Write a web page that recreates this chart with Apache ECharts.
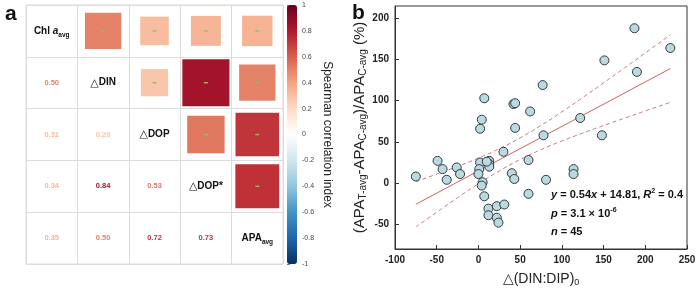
<!DOCTYPE html>
<html>
<head>
<meta charset="utf-8">
<script src="https://cdn.jsdelivr.net/npm/echarts@6/dist/echarts.min.js"></script>
<style>
  html, body { margin: 0; padding: 0; background: #fff; }
  #chart { width: 700px; height: 294px; }
</style>
</head>
<body>
<div id="chart"></div>
<script>
// panel a -- lower triangle of the Spearman matrix (row i, col j < i)
const varLabels = [
  "{b|Chl }{bi|a}{sub|avg}",
  "{t|△}{b|DIN}",
  "{t|△}{b|DOP}",
  "{t|△}{b|DOP*}",
  "{b|APA}{sub|avg}",
];
const corrRows = [
  [],
  [0.50],
  [0.31, 0.28],
  [0.34, 0.84, 0.53],
  [0.35, 0.50, 0.72, 0.73],
];
const cbarTicks = [-1, -0.8, -0.6, -0.4, -0.2, 0, 0.2, 0.4, 0.6, 0.8, 1];
const rdbu = ["#053061", "#2166AC", "#4393C3", "#92C5DE", "#D1E5F0", "#FFFFFF",
              "#FDDBC7", "#F4A582", "#D6604D", "#B2182B", "#67001F"];

// panel b -- scatter
const dinDip = [-75, -49, -43, -38, -26, -22, 2, 1, 0, 5, 4, 7, 12, 12, 22, 31, 22, 24,
  13, 13, 13, 30, 40, 43, 60, 60, 81, 114, 114, 78, 122, 148, 151, 190, 187, 230,
  77, 7, 4, 2, 42, 44, 62, 44, 10];
const apaDiff = [8, 27, 17, 4, 19, 11, 25, 17, 11, 1, -3, -16, -31, -39, -28, -26, -42, -48,
  27, 23, 20, 38, 12, 5, 28, -13, 4, 17, 11, 58, 79, 58, 149, 135, 188, 164,
  119, 103, 77, 66, 96, 97, 87, 67, 26];
const fitX = [-75, 230];
const fitY = [-25.7, 139.0];
const bandX = [-75, -50, -25, 0, 25, 50, 75, 100, 125, 150, 175, 200, 230];
const bandUpper = [1.8, 10.9, 20.3, 30.4, 41.8, 54.9, 70, 86.5, 103.9, 121.7, 139.8, 158, 180];
const bandLower = [-53.2, -35.3, -17.7, -0.8, 14.8, 28.7, 40.6, 51.1, 60.7, 69.9, 78.8, 87.6, 98];

const FONT = "Liberation Sans, Arial, sans-serif";

const upperCells = [];
const lowerCells = [];
corrRows.forEach((row, i) => {
  row.forEach((v, j) => {
    upperCells.push([i, j, v]);   // column i, row j (above diagonal)
    lowerCells.push([j, i, v]);   // column j, row i (below diagonal)
  });
});
const diagCells = varLabels.map((_, i) => [i, i]);

const chart = echarts.init(document.getElementById("chart"));

const sub = (size) => ({ fontSize: size, fontFamily: FONT, verticalAlign: "bottom", lineHeight: 16 });

const option = {
  animation: false,
  textStyle: { fontFamily: FONT },
  grid: [
    { left: 26, top: 5, width: 257, height: 259, show: true, borderColor: "#dcdcdc", borderWidth: 1 },
    { left: 287, top: 5, width: 10, height: 259 },
    { left: 395, top: 6, width: 292, height: 243, show: true, borderColor: "#333", borderWidth: 1 },
  ],
  xAxis: [
    {
      gridIndex: 0, type: "category", data: [0, 1, 2, 3, 4],
      axisLine: { show: false }, axisTick: { show: false }, axisLabel: { show: false },
      splitLine: { show: true, lineStyle: { color: "#dcdcdc" } },
    },
    { gridIndex: 1, type: "value", show: false },
    {
      gridIndex: 2, type: "value", min: -100, max: 250, interval: 50,
      axisLine: { onZero: false, lineStyle: { color: "#333" } },
      axisTick: { inside: true, length: 4, lineStyle: { color: "#333" } },
      axisLabel: { fontSize: 10, fontWeight: "bold", color: "#222", margin: 6 },
      splitLine: { show: false },
      name: "△(DIN:DIP){s|0}", nameLocation: "middle", nameGap: 22,
      nameTextStyle: { fontSize: 14, color: "#222", rich: { s: sub(9) } },
    },
  ],
  yAxis: [
    {
      gridIndex: 0, type: "category", data: [0, 1, 2, 3, 4], inverse: true,
      axisLine: { show: false }, axisTick: { show: false }, axisLabel: { show: false },
      splitLine: { show: true, lineStyle: { color: "#dcdcdc" } },
    },
    {
      gridIndex: 1, type: "value", min: -1, max: 1, interval: 0.2, position: "right",
      axisLine: { show: false },
      axisTick: { show: true, length: 3, lineStyle: { color: "#777" } },
      axisLabel: {
        fontSize: 7, color: "#444", margin: 5,
        formatter: (v) => String(cbarTicks.reduce((a, b) => Math.abs(b - v) < Math.abs(a - v) ? b : a)),
      },
      splitLine: { show: false },
      name: "Spearman correlation index", nameLocation: "middle", nameRotate: -90, nameGap: 24,
      nameTextStyle: { fontSize: 12, color: "#222" },
    },
    {
      gridIndex: 2, type: "value", min: -80, max: 215, splitNumber: 5,
      axisLine: { onZero: false, lineStyle: { color: "#333" } },
      axisTick: { inside: true, length: 4, lineStyle: { color: "#333" } },
      axisLabel: {
        fontSize: 10, fontWeight: "bold", color: "#222", margin: 6,
        showMinLabel: false, showMaxLabel: false,
      },
      splitLine: { show: false },
      name: "(APA{s|T-avg}-APA{s|C-avg})/APA{s|C-avg} (%)",
      nameLocation: "middle", nameGap: 27,
      nameTextStyle: { fontSize: 15, color: "#222", rich: { s: sub(10) } },
    },
  ],
  visualMap: {
    type: "continuous", min: -1, max: 1, seriesIndex: [0, 1], dimension: 2,
    calculable: false, hoverLink: false, text: null, padding: 0,
    left: 287, top: 5, itemWidth: 10, itemHeight: 259,
    inRange: { color: rdbu },
  },
  series: [
    {
      // squares above the diagonal
      type: "custom", xAxisIndex: 0, yAxisIndex: 0, data: upperCells,
      renderItem: function (params, api) {
        const c = api.coord([api.value(0), api.value(1)]);
        const cell = api.size([1, 1]);
        const s = cell[0] * Math.sqrt(Math.abs(api.value(2)));
        return {
          type: "group",
          children: [
            { type: "rect", shape: { x: c[0] - s / 2, y: c[1] - s / 2, width: s, height: s },
              style: { fill: api.visual("color") } },
            { type: "rect", shape: { x: c[0] - 2, y: c[1] - 0.7, width: 4, height: 1.4 },
              style: { fill: "#a5b55c" } },
          ],
        };
      },
    },
    {
      // coefficients below the diagonal
      type: "custom", xAxisIndex: 0, yAxisIndex: 0, data: lowerCells,
      renderItem: function (params, api) {
        const c = api.coord([api.value(0), api.value(1)]);
        return {
          type: "text",
          style: {
            x: c[0], y: c[1], text: api.value(2).toFixed(2),
            align: "center", verticalAlign: "middle",
            fontSize: 7.5, fontWeight: "bold", fontFamily: FONT,
            fill: api.visual("color"),
          },
        };
      },
    },
    {
      // variable names on the diagonal
      type: "custom", xAxisIndex: 0, yAxisIndex: 0, data: diagCells,
      renderItem: function (params, api) {
        const c = api.coord([api.value(0), api.value(1)]);
        return {
          type: "text",
          style: {
            x: c[0], y: c[1], text: varLabels[params.dataIndex],
            align: "center", verticalAlign: "middle",
            rich: {
              b: { fontSize: 10, fontWeight: "bold", fontFamily: FONT, fill: "#111", lineHeight: 15 },
              bi: { fontSize: 10, fontWeight: "bold", fontStyle: "italic", fontFamily: FONT, fill: "#111", lineHeight: 15 },
              t: { fontSize: 11, fontFamily: "DejaVu Sans", fill: "#111", lineHeight: 15 },
              sub: { fontSize: 6.5, fontWeight: "bold", fontFamily: FONT, fill: "#111", verticalAlign: "bottom", lineHeight: 15 },
            },
          },
        };
      },
    },
    {
      type: "line", xAxisIndex: 2, yAxisIndex: 2, smooth: true, symbol: "none",
      data: bandX.map((x, i) => [x, bandUpper[i]]),
      lineStyle: { color: "#c47b7e", width: 1, type: [4, 3] }, z: 2,
    },
    {
      type: "line", xAxisIndex: 2, yAxisIndex: 2, smooth: true, symbol: "none",
      data: bandX.map((x, i) => [x, bandLower[i]]),
      lineStyle: { color: "#c47b7e", width: 1, type: [4, 3] }, z: 2,
    },
    {
      type: "line", xAxisIndex: 2, yAxisIndex: 2, symbol: "none",
      data: fitX.map((x, i) => [x, fitY[i]]),
      lineStyle: { color: "#d45e5e", width: 1 }, z: 3,
    },
    {
      type: "scatter", xAxisIndex: 2, yAxisIndex: 2, symbolSize: 9,
      data: dinDip.map((x, i) => [x, apaDiff[i]]),
      itemStyle: { color: "#bcd8e0", borderColor: "#2c3a3e", borderWidth: 1, opacity: 1 },
      z: 5,
    },
  ],
  graphic: [
    { type: "text", left: 5, top: 4, style: { text: "a", fontSize: 21, fontWeight: "bold", fontFamily: FONT, fill: "#111" } },
    { type: "text", left: 352, top: 3, style: { text: "b", fontSize: 21, fontWeight: "bold", fontFamily: FONT, fill: "#111" } },
    {
      type: "text", left: 551, top: 186, z: 10,
      style: {
        text: "{i|y}{r| = 0.54}{i|x}{r| + 14.81, }{i|R}{sup|2}{r| = 0.4}\n{i|p}{r| = 3.1 × 10}{sup|-6}\n{i|n}{r| = 45}",
        rich: {
          r: { fontSize: 11, fontWeight: "bold", fontFamily: FONT, fill: "#111", lineHeight: 18.5 },
          i: { fontSize: 11, fontWeight: "bold", fontStyle: "italic", fontFamily: FONT, fill: "#111", lineHeight: 18.5 },
          sup: { fontSize: 7, fontWeight: "bold", fontFamily: FONT, fill: "#111", verticalAlign: "top", lineHeight: 18.5, padding: [2, 0, 0, 0] },
        },
      },
    },
  ],
};

chart.setOption(option);
</script>
</body>
</html>
